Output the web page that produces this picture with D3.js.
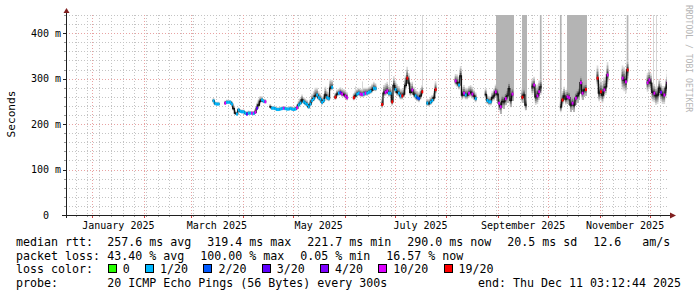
<!DOCTYPE html>
<html><head><meta charset="utf-8">
<script src="https://cdn.jsdelivr.net/npm/d3@7"></script>
<style>
html,body{margin:0;padding:0;background:#fff;}
svg{display:block;}
text{font-family:"DejaVu Sans Mono",monospace;}
</style></head><body>
<svg id="chart" width="697" height="297"></svg>
<script>
// ---------------- DATA ----------------
const firstDay = "2025-03-14";           // first daily sample
const graphStart = "2024-12-16T03:12:44"; // 360 days window
const graphEnd   = "2025-12-11T03:12:44";

// median round trip time per day (ms), null = no data
const median = [
  /*Mar 14-31*/ 251,245,244,244,null,null,null,246,248,248,248,244,234,224,222,231,228,227,
  /*Apr*/ 227,224,222,224,224,224,223,226,235,242,250,253,250,249,null,null,238,235,235,234,232,232,233,234,235,234,233,233,234,233,
  /*May*/ 232,233,236,242,246,253,249,246,243,238,244,252,256,262,264,258,255,248,252,264,258,256,279,281,null,259,266,268,269,266,265,
  /*Jun*/ 262,258,null,null,null,258,262,266,268,266,265,266,268,268,270,272,275,279,278,null,null,null,243,268,270,273,268,268,249,285,
  /*Jul*/ 276,270,268,262,262,266,285,301,290,270,275,266,262,258,256,262,271,null,null,246,245,248,252,258,276,null,null,null,null,null,null,
  /*Aug*/ null,null,null,null,null,295,291,286,306,264,268,264,264,268,270,266,262,256,null,null,null,null,null,265,252,249,249,258,262,271,266,
  /*Sep*/ 246,238,250,249,256,262,278,252,266,null,null,null,null,null,259,264,242,null,null,null,282,286,260,262,271,282,null,null,null,null,
  /*Oct*/ null,null,null,null,null,null,null,238,253,262,255,260,258,242,246,242,257,262,268,291,268,275,276,null,null,null,null,null,null,301,268,
  /*Nov*/ 271,264,275,282,308,null,null,null,null,null,null,null,null,301,297,293,319,null,null,null,null,null,null,null,null,null,null,null,291,297,
  /*Dec 1-11*/ 290,270,268,262,264,279,270,264,264,279,291
];
// lost pings out of 20 per day where the loss colour is visible (null = only the dark median line shows)
const loss = [
  /*Mar*/ 1,1,1,1,null,null,null,10,1,1,1,1,null,null,1,1,1,1,
  /*Apr*/ 1,1,3,1,1,10,1,10,3,null,null,1,1,10,null,null,null,1,1,1,1,1,1,1,10,1,1,1,1,1,
  /*May*/ 1,1,10,1,1,null,1,1,1,1,1,1,1,null,1,1,1,1,1,null,1,1,null,1,null,19,null,1,3,10,null,
  /*Jun*/ 10,10,null,null,null,19,null,1,1,10,10,1,10,1,1,1,null,1,1,null,null,null,19,null,10,10,1,1,19,null,
  /*Jul*/ 1,null,1,1,19,null,null,19,null,null,10,null,1,2,2,null,19,null,null,1,null,1,1,null,19,null,null,null,null,null,null,
  /*Aug*/ null,null,null,null,null,10,null,1,null,null,10,1,null,10,null,10,null,1,null,null,null,null,null,null,1,1,1,null,null,10,null,
  /*Sep*/ 10,10,null,null,10,null,null,null,10,null,null,null,null,null,19,null,null,null,null,null,null,10,null,10,10,null,null,null,null,null,
  /*Oct*/ null,null,null,null,null,null,null,null,19,null,null,10,10,null,10,null,10,null,null,10,10,null,19,null,null,null,null,null,null,19,null,
  /*Nov*/ 19,null,10,null,10,null,null,null,null,null,null,null,null,10,null,10,19,null,null,null,null,null,null,null,null,null,null,null,10,10,
  /*Dec*/ null,null,10,null,null,null,4,null,10,null,10
];
// spread of the ping "smoke" below / above the median (ms)
const smokeBelow = [
  /*Mar*/ 3,4,3,3,null,null,null,3,3,3,3,4,5,4,3,4,3,3,
  /*Apr*/ 3,3,3,3,3,3,3,4,5,5,5,4,4,3,null,null,3,3,3,3,3,3,3,3,3,3,3,3,3,3,
  /*May*/ 3,3,4,4,4,5,5,5,5,5,5,6,6,6,6,6,6,6,6,6,6,6,6,6,null,6,6,6,6,6,6,
  /*Jun*/ 6,6,null,null,null,6,6,6,6,6,6,6,6,6,6,6,6,6,6,null,null,null,8,8,8,8,8,8,8,10,
  /*Jul*/ 10,8,8,8,8,8,10,10,10,8,8,8,8,8,8,8,8,null,null,6,6,6,6,8,10,null,null,null,null,null,null,
  /*Aug*/ null,null,null,null,null,10,10,10,10,10,10,10,10,10,10,10,8,8,null,null,null,null,null,8,8,8,8,8,10,10,15,
  /*Sep*/ 15,15,15,15,15,15,15,15,15,null,null,null,null,null,12,12,12,null,null,null,18,18,18,18,18,18,null,null,null,null,
  /*Oct*/ null,null,null,null,null,null,null,12,12,12,12,15,15,15,15,15,15,15,15,15,15,15,15,null,null,null,null,null,null,18,18,
  /*Nov*/ 18,18,18,18,20,null,null,null,null,null,null,null,null,25,25,25,25,null,null,null,null,null,null,null,null,null,null,null,20,20,
  /*Dec*/ 20,20,20,20,20,20,20,20,20,20,20
];
const smokeAbove = [
  /*Mar*/ 6,5,5,5,null,null,null,6,6,5,5,6,8,7,6,6,5,5,
  /*Apr*/ 5,5,6,6,5,5,6,8,12,14,12,8,6,6,null,null,6,5,5,5,5,5,5,5,5,5,5,5,6,6,
  /*May*/ 6,6,8,10,12,12,10,10,10,10,12,14,16,18,16,14,12,12,14,18,16,14,20,16,null,10,10,10,12,12,12,
  /*Jun*/ 12,12,null,null,null,10,12,12,12,12,12,14,12,12,12,12,14,14,12,null,null,null,15,18,20,20,18,16,20,20,
  /*Jul*/ 20,18,16,16,16,18,22,25,22,18,18,16,15,15,15,15,15,null,null,10,10,12,12,14,18,null,null,null,null,null,null,
  /*Aug*/ null,null,null,null,null,15,18,18,22,18,18,16,16,16,16,16,14,14,null,null,null,null,null,14,12,12,12,14,16,16,20,
  /*Sep*/ 20,20,20,20,20,20,20,20,20,null,null,null,null,null,20,20,20,null,null,null,18,18,25,25,25,20,null,null,null,null,
  /*Oct*/ null,null,null,null,null,null,null,20,20,20,20,20,20,20,20,20,20,20,20,20,20,20,20,null,null,null,null,null,null,28,28,
  /*Nov*/ 28,28,28,28,28,null,null,null,null,null,null,null,null,28,28,28,25,null,null,null,null,null,null,null,null,null,null,null,22,22,
  /*Dec*/ 22,20,20,20,20,20,20,20,20,20,25
];
// single outlier pings (top value in ms)
const spikeDays  = ["2025-06-07","2025-06-11","2025-06-27","2025-07-17","2025-09-26","2025-10-08","2025-11-17","2025-12-02","2025-12-04"];
const spikeTops  = [283, 294, 341, 440, 440, 440, 440, 440, 440];
const spikeTones = ["light","light","light","light","mid","mid","mid","light","light"];
// periods where the smoke reaches off the top of the graph
const blockStarts = ["2025-08-31","2025-09-15","2025-10-12"];
const blockEnds   = ["2025-09-10","2025-09-18","2025-10-24"];

const lossSteps  = [0, 1, 2, 3, 4, 10, 19];
const lossLabels = ["0","1/20","2/20","3/20","4/20","10/20","19/20"];
const lossColors = ["#26ff00","#00b8ff","#0059ff","#5e00ff","#7e00ff","#dd00ff","#ff0000"];

const yTicks = [0, 100, 200, 300, 400];
const yTickLabels = ["0","100 m","200 m","300 m","400 m"];
const xLabelMonths = ["2025-01","2025-03","2025-05","2025-07","2025-09","2025-11"];
const xTickLabels = ["January 2025","March 2025","May 2025","July 2025","September 2025","November 2025"];

const legendRtt  = ["257.6 ms avg","319.4 ms max","221.7 ms min","290.0 ms now","20.5 ms sd","12.6   am/s"];
const legendLoss = ["43.40 % avg","100.00 % max","0.05 % min","16.57 % now"];
const probeText = "20 ICMP Echo Pings (56 Bytes) every 300s";
const endText = "end: Thu Dec 11 03:12:44 2025";

// ---------------- CHART ----------------
const svg = d3.select("#chart");
const plotL = 66, plotR = 667, plotT = 15, plotB = 215;
const start = d3.utcParse("%Y-%m-%dT%H:%M:%S")(graphStart);
const end = d3.utcParse("%Y-%m-%dT%H:%M:%S")(graphEnd);
const x = d3.scaleUtc().domain([start, end]).range([plotL, plotR]);
const y = d3.scaleLinear().domain([0, 440]).range([plotB, plotT]);
const pday = d3.utcParse("%Y-%m-%d");

svg.append("rect").attr("width",697).attr("height",297).attr("fill","#fff");
svg.append("defs").append("clipPath").attr("id","clip").append("rect")
  .attr("x",plotL).attr("y",plotT).attr("width",plotR-plotL).attr("height",plotB-plotT);

// grid
const grid = svg.append("g");
const minorCol = "#c4c4c4", majorCol = "#e8a2a2", dash = "1,2";
d3.range(20, 441, 20).filter(v => v % 100 !== 0).forEach(v => {
  const yy = Math.round(y(v)) + 0.5;
  grid.append("line").attr("x1",plotL).attr("x2",plotR).attr("y1",yy).attr("y2",yy)
    .attr("stroke",minorCol).attr("stroke-dasharray",dash);
  grid.append("line").attr("x1",plotL-2).attr("x2",plotL).attr("y1",yy).attr("y2",yy).attr("stroke","#999");
});
d3.utcSunday.range(start, end).forEach(t => {
  const xx = Math.round(x(t)) + 0.5;
  grid.append("line").attr("x1",xx).attr("x2",xx).attr("y1",plotT).attr("y2",plotB)
    .attr("stroke",minorCol).attr("stroke-dasharray",dash);
  grid.append("line").attr("x1",xx).attr("x2",xx).attr("y1",plotB).attr("y2",plotB+2).attr("stroke","#999");
});
yTicks.filter(v => v > 0).forEach(v => {
  const yy = Math.round(y(v)) + 0.5;
  grid.append("line").attr("x1",plotL).attr("x2",plotR).attr("y1",yy).attr("y2",yy)
    .attr("stroke",majorCol).attr("stroke-dasharray",dash);
});
d3.utcMonth.range(d3.utcMonth.ceil(start), end).forEach(t => {
  const xx = Math.round(x(t)) + 0.5;
  grid.append("line").attr("x1",xx).attr("x2",xx).attr("y1",plotT).attr("y2",plotB)
    .attr("stroke",majorCol).attr("stroke-dasharray",dash);
  grid.append("line").attr("x1",xx).attr("x2",xx).attr("y1",plotB).attr("y2",plotB+3).attr("stroke","#d04040");
});

// data rows
const day0 = pday(firstDay);
const rows = median.map((m, i) => {
  const t = d3.utcDay.offset(day0, i);
  return {t, t1: d3.utcDay.offset(t, 1), m, l: loss[i], below: smokeBelow[i], above: smokeAbove[i]};
});
const steps = [];
rows.forEach((r, i) => {
  if (r.m == null) { steps.push({gap: true}); return; }
  steps.push(Object.assign({}, r, {xt: r.t}));
  const nx = rows[i+1];
  if (!nx || nx.m == null) steps.push(Object.assign({}, r, {xt: r.t1}));
});
const data = svg.append("g").attr("clip-path","url(#clip)");
const bands = [[1.0,"#d8d8d8"],[0.75,"#adadad"],[0.5,"#7e7e7e"],[0.28,"#4e4e4e"]];
function band(f){
  return d3.area().defined(d => !d.gap).curve(d3.curveStepAfter)
    .x(d => x(d.xt)).y0(d => y(d.m - d.below*f)).y1(d => y(d.m + d.above*f));
}
data.append("path").attr("d", band(bands[0][0])(steps)).attr("fill", bands[0][1]);

// blocks reaching the top
blockStarts.forEach((bs, k) => {
  const a = pday(bs), b = pday(blockEnds[k]);
  rows.filter(r => r.t >= a && r.t < b && r.m != null).forEach(r => {
    data.append("rect").attr("x", x(r.t)).attr("width", x(r.t1)-x(r.t)+0.4)
      .attr("y", y(440)).attr("height", y(r.m - r.below) - y(440))
      .attr("fill","#b4b4b4").attr("shape-rendering","crispEdges");
  });
});
// outlier spikes
spikeDays.forEach((sd, k) => {
  const t = pday(sd);
  const r = rows.find(rr => +rr.t === +t);
  const base = r && r.m != null ? r.m + r.above : spikeTops[k] - 20;
  const light = spikeTones[k] === "light";
  const w = light ? 1 : x(d3.utcDay.offset(t,1)) - x(t);
  const xx = light ? Math.round(x(t) + (x(d3.utcDay.offset(t,1))-x(t))/2) : x(t);
  data.append("rect").attr("x", xx).attr("width", w)
    .attr("y", y(spikeTops[k])).attr("height", y(base) - y(spikeTops[k]) + 2)
    .attr("fill", light ? "#d6d6d6" : "#b4b4b4");
});
bands.slice(1).forEach(([f, c]) => {
  data.append("path").attr("d", band(f)(steps)).attr("fill", c);
});
// median line
data.append("path")
  .attr("d", d3.line().defined(d => !d.gap).curve(d3.curveStepAfter).x(d => x(d.xt)).y(d => y(d.m))(steps))
  .attr("fill","none").attr("stroke","#111").attr("stroke-width",1.3);
// loss coloured marks
rows.filter(r => r.m != null && r.l != null).forEach(r => {
  data.append("rect").attr("x", x(r.t)).attr("width", x(r.t1)-x(r.t)+0.2)
    .attr("y", y(r.m)-1.5).attr("height", 3)
    .attr("fill", lossColors[lossSteps.indexOf(r.l)]);
});

// axes
const ax = svg.append("g");
ax.append("line").attr("x1",plotL-4).attr("x2",plotR+4).attr("y1",plotB+0.5).attr("y2",plotB+0.5).attr("stroke","#1f1f1f");
ax.append("line").attr("x1",plotL+0.5).attr("x2",plotL+0.5).attr("y1",plotB+3).attr("y2",plotT-3).attr("stroke","#1f1f1f");
ax.append("path").attr("d",`M${plotR+3},${plotB-2.5}L${plotR+9},${plotB+0.5}L${plotR+3},${plotB+3.5}Z`).attr("fill","#801f1f");
ax.append("path").attr("d",`M${plotL-2.5},${plotT-2}L${plotL+0.5},${plotT-7}L${plotL+3.5},${plotT-2}Z`).attr("fill","#801f1f");
yTicks.forEach((v, i) => {
  const yy = Math.round(y(v)) + 0.5;
  ax.append("line").attr("x1",plotL-3).attr("x2",plotL).attr("y1",yy).attr("y2",yy).attr("stroke","#1f1f1f");
  ax.append("text").attr("x", v === 0 ? 49 : 61).attr("y", y(v)).attr("dy","0.36em")
    .attr("text-anchor","end").attr("font-size","10px").attr("fill","#000").text(yTickLabels[i]);
});
const pm = d3.utcParse("%Y-%m");
xLabelMonths.forEach((ms, i) => {
  const a = pm(ms), b = d3.utcMonth.offset(a, 1);
  const xc = (x(a) + x(b)) / 2;
  ax.append("text").attr("x", xc).attr("y", 228.5).attr("text-anchor","middle")
    .attr("font-size","10px").attr("fill","#000").text(xTickLabels[i]);
});
svg.append("text").attr("transform","translate(15,114) rotate(-90)").attr("text-anchor","middle")
  .attr("font-size","11.2px").attr("fill","#000").text("Seconds");
svg.append("text").attr("transform","translate(686,5) rotate(90)")
  .attr("font-size","8.1px").attr("fill","#b5b5b5").text("RRDTOOL / TOBI OETIKER");

// legend
const lg = svg.append("g").attr("font-size","11.63px").attr("fill","#000");
const rowsY = [246, 259.7, 273.3, 287];
const colX = 16, valX = 107.3, gap = 16;
["median rtt:","packet loss:","loss color:","probe:"].forEach((s, i) => {
  lg.append("text").attr("x", colX).attr("y", rowsY[i]).text(s);
});
function flow(items, yy){
  let cx = valX;
  items.forEach(s => {
    const t = lg.append("text").attr("x", cx).attr("y", yy).style("white-space","pre").text(s);
    cx += t.node().getComputedTextLength() + gap;
  });
}
flow(legendRtt, rowsY[0]);
flow(legendLoss, rowsY[1]);
let bx = valX + 0.5;
lossLabels.forEach((s, i) => {
  lg.append("rect").attr("x", Math.round(bx)+0.5).attr("y", rowsY[2]-8.8).attr("width",8).attr("height",8)
    .attr("fill", lossColors[i]).attr("stroke","#000").attr("stroke-width",1);
  const t = lg.append("text").attr("x", bx + 15).attr("y", rowsY[2]).text(s);
  bx += 15 + t.node().getComputedTextLength() + 15.3;
});
lg.append("text").attr("x", valX).attr("y", rowsY[3]).text(probeText);
lg.append("text").attr("x", 681).attr("y", rowsY[3]).attr("text-anchor","end").text(endText);
</script></body></html>
